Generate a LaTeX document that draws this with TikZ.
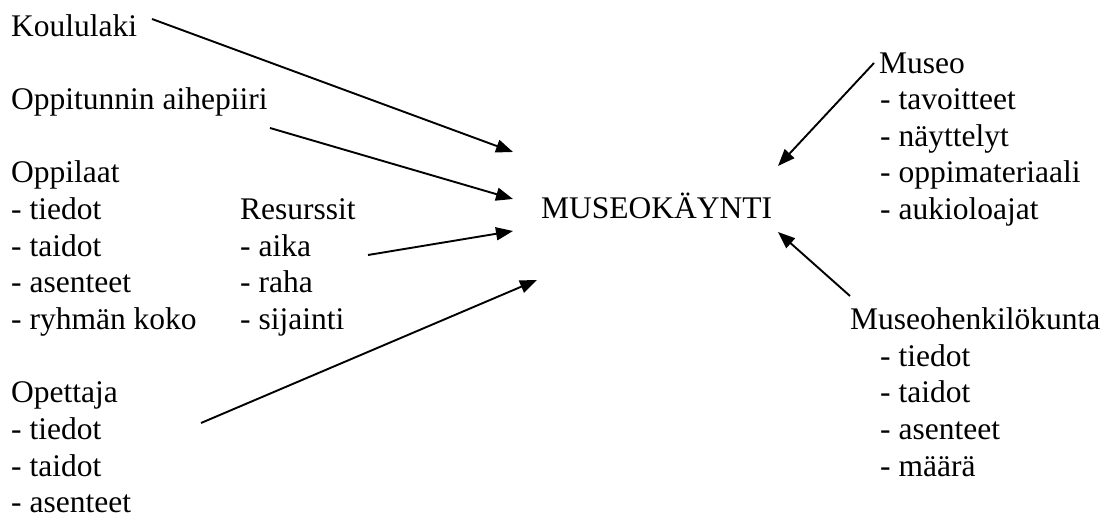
\documentclass[tikz,border=0pt]{standalone}
\usepackage{fontspec}
\setmainfont{Liberation Serif}
\usetikzlibrary{arrows.meta}
\newcommand\fs{\fontsize{31.5}{36.6}\selectfont}
\begin{document}
\begin{tikzpicture}[x=1pt,y=-1pt,
  txt/.style={anchor=base west,inner sep=0pt,font=\fs},
  arr/.style={line width=1.9pt,-{Triangle[length=17pt,width=13pt]}}]
\useasboundingbox (0,0) rectangle (1114,518);
% left column
\node[txt] (koulu) at (11,36.7) {Koululaki};
\node[txt] (oppit) at (11,110) {Oppitunnin aihepiiri};
\node[txt] (oppilaat) at (11,183) {Oppilaat};
\node[txt] (opl1) at (11,220) {- tiedot};
\node[txt] (opl2) at (11,256.5) {- taidot};
\node[txt] (opl3) at (11,293) {- asenteet};
\node[txt] (opl4) at (11,330) {- ryhmän koko};
\node[txt] (res) at (240,220) {Resurssit};
\node[txt] (res1) at (240,256.5) {- aika};
\node[txt] (res2) at (240,293) {- raha};
\node[txt] (res3) at (240,330) {- sijainti};
\node[txt] (opet) at (11,403) {Opettaja};
\node[txt] (ope1) at (11,439.5) {- tiedot};
\node[txt] (ope2) at (11,476) {- taidot};
\node[txt] (ope3) at (11,512.5) {- asenteet};
% centre
\node[txt] (mk) at (541,219) {MUSEOKÄYNTI};
% right column
\node[txt] (museo) at (879,73.3) {Museo};
\node[txt] (mu1) at (880,110) {- tavoitteet};
\node[txt] (mu2) at (880,146.6) {- näyttelyt};
\node[txt] (mu3) at (880,183) {- oppimateriaali};
\node[txt] (mu4) at (880,220) {- aukioloajat};
\node[txt] (mh) at (850,330) {Museohenkilökunta};
\node[txt] (mh1) at (880,366.5) {- tiedot};
\node[txt] (mh2) at (880,403) {- taidot};
\node[txt] (mh3) at (880,439.5) {- asenteet};
\node[txt] (mh4) at (880,476) {- määrä};
% arrow ends
\coordinate (a1s) at (152,19);   \coordinate (a1e) at (513,152);
\coordinate (a2s) at (270,128);  \coordinate (a2e) at (513,199);
\coordinate (a3s) at (368,255);  \coordinate (a3e) at (513,231);
\coordinate (a4s) at (201,423);  \coordinate (a4e) at (537,280);
\coordinate (a5s) at (874,63);   \coordinate (a5e) at (778,166);
\coordinate (a6s) at (850,296);  \coordinate (a6e) at (778,232);
\draw[arr] (a1s) -- (a1e);
\draw[arr] (a2s) -- (a2e);
\draw[arr] (a3s) -- (a3e);
\draw[arr] (a4s) -- (a4e);
\draw[arr] (a5s) -- (a5e);
\draw[arr] (a6s) -- (a6e);
\end{tikzpicture}
\end{document}
